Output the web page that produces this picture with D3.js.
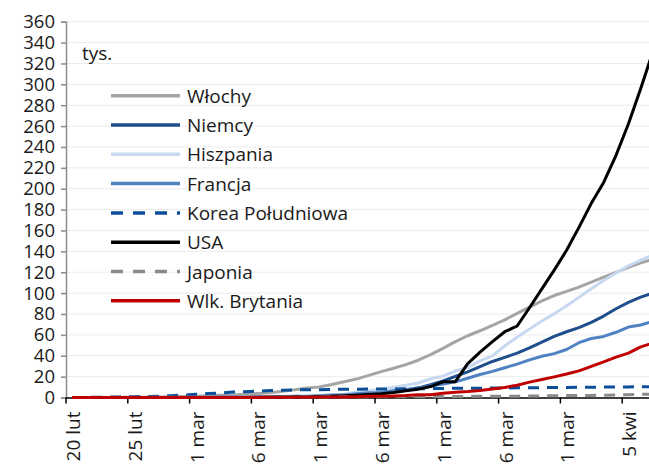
<!DOCTYPE html>
<html>
<head>
<meta charset="utf-8">
<script src="https://cdn.jsdelivr.net/npm/d3@7"></script>
<style>
  body { margin: 0; background: #fff; }
  svg { display: block; }
  text { font-family: "Open Sans", "DejaVu Sans", sans-serif; fill: #1a1a1a; }
</style>
</head>
<body>
<svg id="chart" width="649" height="464"></svg>
<script>
// tick labels as printed under the axis (every 5th day)
var tick_labels = ["20 lut", "25 lut", "1 mar", "6 mar", "1 mar", "6 mar", "1 mar", "6 mar", "1 mar", "5 kwi"];
var y_ticks = d3.range(0, 361, 20);

// cumulative cases, thousands, one value per day
var wlochy = [0.003,0.003,0.02,0.06,0.16,0.23,0.32,0.45,0.66,0.89,1.13,1.69,2.04,2.5,3.09,3.86,4.64,5.88,7.38,9.17,
  10.15,12.46,15.11,17.66,21.16,24.75,27.98,31.51,35.71,41.04,47.02,53.58,59.14,63.93,69.18,74.39,80.59,86.5,92.47,97.69,
  101.74,105.79,110.57,115.24,119.83,124.63,128.95,132.55];
var niemcy = [0.016,0.016,0.016,0.016,0.016,0.016,0.016,0.017,0.027,0.046,0.048,0.079,0.13,0.159,0.196,0.262,0.482,0.67,0.8,1.04,
  1.18,1.46,1.91,2.08,3.68,4.59,5.8,7.27,9.26,12.3,15.8,20.2,24.5,29.5,34.5,38.5,42.5,47.5,53,58.6,
  63,67,72,78,85,91.2,96.1,100.1];
var hiszpania = [0.002,0.002,0.002,0.002,0.002,0.002,0.006,0.013,0.015,0.032,0.045,0.084,0.12,0.165,0.222,0.259,0.4,0.5,0.673,1.07,
  1.7,2.28,3.15,5.23,6.39,7.8,9.94,11.75,13.91,17.96,20.41,25.37,28.6,35.14,39.89,49.52,57.79,65.72,73.24,80.11,
  87.96,95.92,104.12,112.07,119.2,126.17,131.65,136.68];
var francja = [0.012,0.012,0.012,0.012,0.012,0.012,0.014,0.018,0.038,0.057,0.1,0.13,0.191,0.204,0.288,0.38,0.656,0.959,1.136,1.219,
  1.79,2.29,2.29,3.67,4.5,4.53,6.68,7.72,9.1,11,12.8,15,18.5,22,25,28.5,32,36,39.5,42,
  46,52.5,56.5,58.5,62.5,67.5,69.5,73];
var korea = [0.046,0.104,0.204,0.433,0.602,0.833,0.977,1.261,1.766,2.337,3.15,3.736,4.335,5.186,5.621,6.088,6.593,7.041,7.314,7.478,
  7.513,7.755,7.869,7.979,8.086,8.162,8.236,8.32,8.413,8.565,8.652,8.799,8.897,8.961,9.037,9.137,9.241,9.332,9.478,9.583,
  9.661,9.786,9.887,9.976,10.062,10.156,10.237,10.284];
var usa = [0.015,0.015,0.015,0.015,0.015,0.015,0.015,0.016,0.016,0.017,0.024,0.03,0.053,0.073,0.104,0.174,0.222,0.337,0.451,0.519,
  0.711,1.11,1.56,2.16,2.87,3.5,4.7,6.5,8,10.5,15,15.2,32.5,43.5,53.5,63,68.5,86,104,122,
  141,163,186,206,232,262,296,332];
var japonia = [0.084,0.093,0.105,0.132,0.144,0.144,0.17,0.189,0.214,0.228,0.241,0.256,0.274,0.293,0.331,0.36,0.42,0.461,0.502,0.511,
  0.581,0.639,0.639,0.701,0.773,0.839,0.825,0.878,0.889,0.924,0.963,1.007,1.086,1.086,1.128,1.193,1.307,1.387,1.468,1.693,
  1.866,1.866,1.953,2.178,2.495,2.617,3.139,3.139];
var brytania = [0.009,0.009,0.009,0.009,0.009,0.009,0.013,0.013,0.015,0.02,0.023,0.036,0.04,0.051,0.086,0.116,0.164,0.207,0.274,0.322,
  0.384,0.459,0.459,0.802,1.144,1.145,1.551,1.96,2.642,2.716,4.014,5.067,5.745,6.726,8.164,9.64,11.812,14.745,17.312,19.78,
  22.453,25.481,29.865,34.173,38.689,42.477,48.436,52.279];

var series = [
  { name: "Włochy",         values: wlochy,    color: "#a5a5a5", dash: null },
  { name: "Niemcy",         values: niemcy,    color: "#1f4e8c", dash: null },
  { name: "Hiszpania",      values: hiszpania, color: "#c6d9f1", dash: null },
  { name: "Francja",        values: francja,   color: "#5082c3", dash: null },
  { name: "Korea Południowa", values: korea,   color: "#0b4f99", dash: "11,8" },
  { name: "USA",            values: usa,       color: "#000000", dash: null },
  { name: "Japonia",        values: japonia,   color: "#8a8a8a", dash: "11,8" },
  { name: "Wlk. Brytania",  values: brytania,  color: "#c00000", dash: null }
];

var svg = d3.select("#chart"),
    plot_left = 66, plot_bottom = 397.5, plot_top = 21.7, day_w = 12.36;

var x = d3.scaleBand()
    .domain(d3.range(wlochy.length))
    .range([plot_left, plot_left + day_w * wlochy.length]);
var y = d3.scaleLinear().domain([0, 360]).range([plot_bottom, plot_top]);

// gridlines
svg.append("g").selectAll("line")
    .data(y_ticks.slice(1))
  .enter().append("line")
    .attr("x1", plot_left).attr("x2", 649)
    .attr("y1", function(d) { return y(d); }).attr("y2", function(d) { return y(d); })
    .style("stroke", "#ececec").style("stroke-width", 1);

// y axis
var yAxis = svg.append("g")
    .attr("transform", "translate(" + plot_left + ",0)")
    .call(d3.axisLeft(y).tickValues(y_ticks).tickSize(5).tickPadding(6));
yAxis.select(".domain").style("stroke", "#8c8c8c").style("stroke-width", 1.5);
yAxis.selectAll(".tick line").style("stroke", "#8c8c8c").style("stroke-width", 1.5);
yAxis.selectAll(".tick text").style("font-size", "18.5px").style("font-family", "Open Sans").style("fill", "#1a1a1a");

// x axis: line + ticks every 5 days, rotated labels
var xg = svg.append("g");
xg.append("line")
    .attr("x1", plot_left).attr("x2", 649).attr("y1", plot_bottom + 0.5).attr("y2", plot_bottom + 0.5)
    .style("stroke", "#000").style("stroke-width", 1.5);
var tick_idx = tick_labels.map(function(d, i) { return i * 5; });
xg.selectAll("line.tk")
    .data(tick_idx)
  .enter().append("line")
    .attr("class", "tk")
    .attr("x1", function(d) { return x(d); }).attr("x2", function(d) { return x(d); })
    .attr("y1", plot_bottom).attr("y2", plot_bottom + 6)
    .style("stroke", "#000").style("stroke-width", 1.5);
xg.selectAll("text")
    .data(tick_idx)
  .enter().append("text")
    .attr("transform", function(d) { return "translate(" + (x(d) + 7) + "," + (plot_bottom + 14) + ") rotate(-90)"; })
    .attr("text-anchor", "end")
    .attr("dominant-baseline", "central")
    .style("font-size", "19px")
    .text(function(d, i) { return tick_labels[i]; });

// lines
var line = d3.line()
    .x(function(d, i) { return x(i) + x.bandwidth() / 2; })
    .y(function(d) { return y(d); });

svg.append("g").selectAll("path")
    .data(series)
  .enter().append("path")
    .attr("d", function(d) { return line(d.values); })
    .style("fill", "none")
    .style("stroke", function(d) { return d.color; })
    .style("stroke-width", 3)
    .style("stroke-linejoin", "round")
    .style("stroke-dasharray", function(d) { return d.dash; });

// unit label
svg.append("text").attr("x", 82).attr("y", 60).style("font-size", "19px").text("tys.");

// legend
var lg = svg.append("g").selectAll("g")
    .data(series)
  .enter().append("g")
    .attr("transform", function(d, i) { return "translate(111," + (95.7 + i * 29.3) + ")"; });
lg.append("line")
    .attr("x1", 0).attr("x2", 69)
    .style("stroke", function(d) { return d.color; })
    .style("stroke-width", 3.5)
    .style("stroke-dasharray", function(d) { return d.dash ? "12,10" : null; });
lg.append("text")
    .attr("x", 76).attr("dominant-baseline", "central")
    .style("font-size", "19px")
    .text(function(d) { return d.name; });
</script>
</body>
</html>
